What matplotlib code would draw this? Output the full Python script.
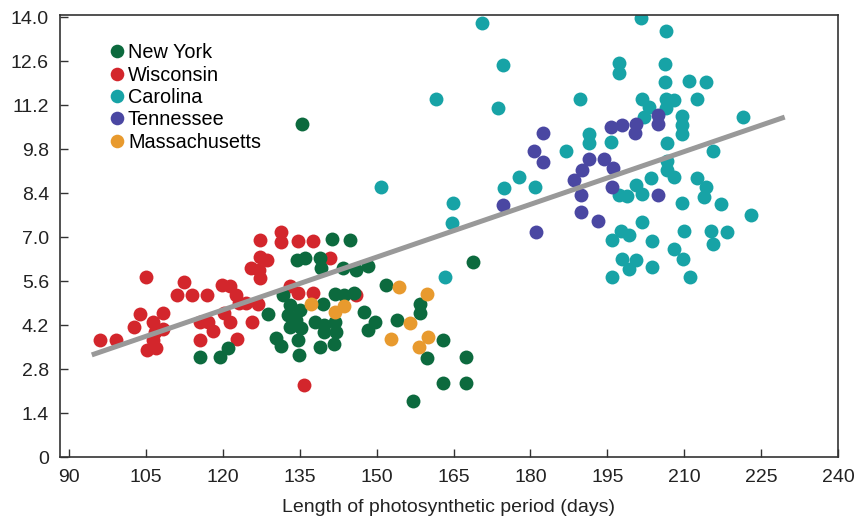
import matplotlib
matplotlib.use("Agg")
import matplotlib.pyplot as plt
from matplotlib.lines import Line2D

plt.rcParams['font.family'] = ['Liberation Sans', 'DejaVu Sans']

# New York
ny_days = [141.2, 144.8, 134.5, 136.1, 138.9, 139.2, 143.4, 146.0, 148.3, 151.8,
           131.7, 133.0, 135.0, 139.5, 141.8, 143.6, 145.5, 128.8, 132.7, 134.3,
           133.0, 135.3, 134.6, 137.9, 139.8, 141.8, 139.8, 142.1, 147.6, 149.6,
           148.3, 130.4, 131.4, 138.9, 141.6, 134.8, 115.5, 119.4, 121.0, 135.5,
           168.7, 153.9, 158.5, 158.5, 163.0, 159.9, 167.5, 162.9, 167.5, 157.0]
ny_vals = [6.94, 6.90, 6.27, 6.32, 6.34, 6.02, 6.02, 5.95, 6.09, 5.47,
           5.15, 4.84, 4.68, 4.86, 5.18, 5.15, 5.21, 4.54, 4.52, 4.36,
           4.15, 4.10, 3.72, 4.31, 4.20, 4.31, 3.99, 3.99, 4.62, 4.31,
           4.04, 3.78, 3.54, 3.51, 3.60, 3.25, 3.19, 3.19, 3.48, 10.60,
           6.21, 4.36, 4.87, 4.59, 3.72, 3.14, 3.17, 2.35, 2.35, 1.78]

# Wisconsin
wi_days = [96.0, 99.1, 105.0, 103.9, 102.6, 108.3, 106.4, 106.7, 108.3, 106.4,
           107.0, 105.1, 112.4, 111.1, 113.9, 116.8, 119.9, 121.3, 122.6, 123.1,
           124.4, 126.8, 115.5, 117.1, 118.1, 120.2, 121.3, 125.7, 115.5, 122.7,
           127.2, 127.2, 128.5, 125.5, 127.0, 127.2, 131.4, 131.4, 134.6, 137.5,
           140.8, 133.0, 134.6, 137.5, 146.0, 135.9]
wi_vals = [3.72, 3.72, 5.74, 4.54, 4.14, 4.57, 4.31, 3.99, 4.07, 3.72,
           3.46, 3.40, 5.56, 5.15, 5.15, 5.15, 5.47, 5.43, 5.15, 4.89,
           4.89, 4.87, 4.31, 4.29, 4.01, 4.57, 4.31, 4.31, 3.72, 3.75,
           6.90, 6.37, 6.27, 6.02, 5.95, 5.69, 7.17, 6.85, 6.87, 6.87,
           6.32, 5.44, 5.21, 5.21, 5.15, 2.29]

# Carolina
ca_days = [170.5, 201.5, 206.4, 174.7, 197.3, 197.3, 206.3, 206.3, 210.9, 214.2,
           161.6, 173.6, 189.7, 201.8, 203.1, 202.2, 206.4, 208.0, 206.4, 212.5,
           209.6, 209.6, 209.6, 221.4, 206.7, 191.4, 191.4, 195.8, 186.9, 215.7,
           206.7, 206.7, 208.0, 203.5, 212.5, 214.2, 213.8, 200.5, 201.8, 198.9,
           197.3, 150.9, 177.8, 174.9, 180.9, 164.8, 164.7, 209.6, 217.2, 223.1,
           201.8, 197.6, 199.2, 196.0, 203.8, 210.0, 215.3, 218.4, 215.6, 208.0,
           209.8, 197.9, 200.5, 199.2, 203.7, 195.9, 211.1, 163.4]
ca_vals = [13.82, 13.96, 13.56, 12.47, 12.53, 12.23, 12.50, 11.94, 11.97, 11.94,
           11.41, 11.10, 11.41, 11.41, 11.15, 10.83, 11.41, 11.38, 11.10, 11.41,
           10.85, 10.56, 10.28, 10.83, 10.00, 10.28, 10.00, 10.03, 9.75, 9.75,
           9.43, 9.15, 8.92, 8.87, 8.87, 8.60, 8.28, 8.65, 8.36, 8.30,
           8.34, 8.60, 8.90, 8.57, 8.60, 8.07, 7.46, 8.07, 8.05, 7.70,
           7.49, 7.20, 7.06, 6.90, 6.88, 7.20, 7.20, 7.17, 6.78, 6.61,
           6.29, 6.29, 6.27, 6.00, 6.04, 5.74, 5.74, 5.72]

# Tennessee
tn_days = [182.4, 180.7, 182.5, 195.7, 197.9, 200.5, 200.4, 204.8, 204.9, 191.4,
           190.0, 188.5, 194.4, 196.1, 196.0, 189.8, 204.9, 189.8, 193.1, 174.7, 181.1]
tn_vals = [10.30, 9.75, 9.40, 10.49, 10.56, 10.60, 10.30, 10.88, 10.59, 9.50,
           9.15, 8.81, 9.50, 9.21, 8.60, 8.34, 8.34, 7.81, 7.52, 8.02, 7.15]

# Massachusetts
ma_days = [137.2, 141.8, 143.6, 154.3, 159.9, 156.5, 152.8, 160.1, 158.3]
ma_vals = [4.86, 4.60, 4.80, 5.42, 5.19, 4.27, 3.75, 3.83, 3.49]

# fitted trend line ends
fit_days = [94.4, 229.6]
fit_vals = [3.25, 10.82]

x_ticks = [90, 105, 120, 135, 150, 165, 180, 195, 210, 225, 240]
y_ticks = [0, 1.4, 2.8, 4.2, 5.6, 7.0, 8.4, 9.8, 11.2, 12.6, 14.0]
y_labels = ["0", "1.4", "2.8", "4.2", "5.6", "7.0", "8.4", "9.8", "11.2", "12.6", "14.0"]

c_ny = "#0c6a3e"
c_wi = "#d3262c"
c_ca = "#17a3a6"
c_tn = "#4a47a2"
c_ma = "#e89a2e"

fig = plt.figure(figsize=(8.6, 5.2), dpi=100)
ax = fig.add_axes([60 / 860, 63 / 520, 778 / 860, 442 / 520])

s = 100
ax.scatter(wi_days, wi_vals, s=s, color=c_wi, linewidths=0, zorder=2)
ax.scatter(ny_days, ny_vals, s=s, color=c_ny, linewidths=0, zorder=3)
ax.scatter(ma_days, ma_vals, s=s, color=c_ma, linewidths=0, zorder=4)
ax.scatter(ca_days, ca_vals, s=s, color=c_ca, linewidths=0, zorder=2)
ax.scatter(tn_days, tn_vals, s=s, color=c_tn, linewidths=0, zorder=3)
ax.plot(fit_days, fit_vals, color="#999999", lw=3.6, solid_capstyle="butt", zorder=5)

ax.set_xlim(88.2, 240)
ax.set_ylim(0, 14.07)
ax.set_xticks(x_ticks)
ax.set_yticks(y_ticks)
ax.set_yticklabels(y_labels)
ax.tick_params(direction="in", length=6, width=1.0, colors="#333333",
               labelsize=14, labelcolor="#222222")
ax.tick_params(axis="x", pad=9)
ax.tick_params(axis="y", pad=8)
for sp in ax.spines.values():
    sp.set_linewidth(1.2)
    sp.set_color("#333333")

ax.set_xlabel("Length of photosynthetic period (days)", fontsize=14,
              color="#222222", labelpad=9)

names = ["New York", "Wisconsin", "Carolina", "Tennessee", "Massachusetts"]
cols = [c_ny, c_wi, c_ca, c_tn, c_ma]
handles = [Line2D([], [], ls="", marker="o", markersize=9.8, markerfacecolor=c,
                  markeredgewidth=0) for c in cols]
ax.legend(handles, names, loc="upper left", bbox_to_anchor=(0.063, 0.936),
          frameon=False, fontsize=14.3, borderpad=0, borderaxespad=0,
          handlelength=0.8, handletextpad=0.15, labelspacing=0.17)

fig.savefig("out.png", dpi=100)
